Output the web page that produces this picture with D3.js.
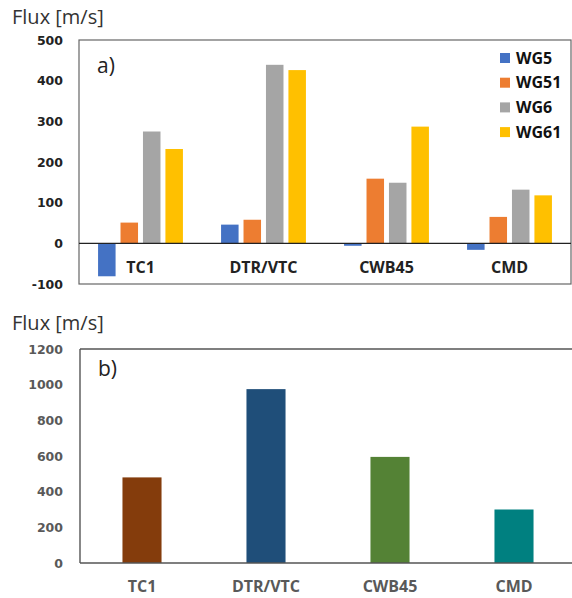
<!DOCTYPE html>
<html><head><meta charset="utf-8">
<script src="https://cdn.jsdelivr.net/npm/d3@7"></script>
<style>body{margin:0;background:#fff}svg{display:block}</style>
</head><body>
<script>
// ---- data ----
const categories = ["TC1", "DTR/VTC", "CWB45", "CMD"];
const seriesNames = ["WG5", "WG51", "WG6", "WG61"];
const WG5 = [-81, 46, -6, -16];
const WG51 = [51, 58, 159, 65];
const WG6 = [275, 439, 149, 132];
const WG61 = [232, 426, 287, 118];
const ticksA = [-100, 0, 100, 200, 300, 400, 500];
const totals = [480, 975, 595, 300];
const ticksB = [0, 200, 400, 600, 800, 1000, 1200];
const seriesColors = ["#4472C4", "#ED7D31", "#A5A5A5", "#FFC000"];
const totalColors = ["#843C0C", "#1F4E79", "#548235", "#008080"];

const W = 572, H = 598;
const svg = d3.select("body").append("svg").attr("width", W).attr("height", H);
const tickFont = "'DejaVu Sans', sans-serif";
const labFont = "'Open Sans', sans-serif";
const fmt = v => String(v);

// ---- chart a ----
const seriesVals = [WG5, WG51, WG6, WG61];
const a = {l: 79, r: 571, t: 40, b: 284};
const yA = d3.scaleLinear().domain([-100, 500]).range([a.b, a.t]);
const x0 = d3.scaleBand().domain(categories).range([a.l, a.r]).paddingInner(0.31).paddingOuter(0.155);
const x1 = d3.scaleBand().domain(seriesNames).range([0, x0.bandwidth()]).paddingInner(0.22);

svg.append("text").attr("x", 12).attr("y", 24).attr("font-family", labFont).attr("font-size", 20)
  .attr("fill", "#333").text("Flux [m/s]");

const gA = svg.append("g");
categories.forEach((c, ci) => {
  seriesNames.forEach((s, si) => {
    const v = seriesVals[si][ci];
    gA.append("rect")
      .attr("x", x0(c) + x1(s)).attr("width", x1.bandwidth())
      .attr("y", yA(Math.max(0, v))).attr("height", Math.abs(yA(v) - yA(0)))
      .attr("fill", seriesColors[si]);
  });
});
// border
svg.append("rect").attr("x", a.l).attr("y", a.t).attr("width", a.r - a.l).attr("height", a.b - a.t)
  .attr("fill", "none").attr("stroke", "#666").attr("stroke-width", 1.2);
// zero line
svg.append("line").attr("x1", a.l).attr("x2", a.r).attr("y1", yA(0)).attr("y2", yA(0))
  .attr("stroke", "#222").attr("stroke-width", 1.2);
// y ticks
const yAxisA = d3.axisLeft(yA).tickValues(ticksA).tickFormat(fmt).tickSize(0).tickPadding(16);
const gya = svg.append("g").attr("transform", `translate(${a.l},0)`).call(yAxisA);
gya.select(".domain").remove();
gya.selectAll("text").attr("font-family", tickFont).attr("font-size", 12.5).attr("font-weight", "bold").attr("fill", "#222");
// category labels
categories.forEach(c => {
  svg.append("text").attr("x", x0(c) + x0.bandwidth() / 2).attr("y", 273)
    .attr("text-anchor", "middle").attr("font-family", labFont).attr("font-size", 16)
    .attr("font-weight", "bold").attr("fill", "#222").text(c);
});
svg.append("text").attr("x", 97).attr("y", 73).attr("font-family", labFont).attr("font-size", 21)
  .attr("fill", "#222").text("a)");
// legend
seriesNames.forEach((s, i) => {
  const y = 58 + i * 24.7;
  svg.append("rect").attr("x", 500).attr("y", y - 5).attr("width", 10).attr("height", 10).attr("fill", seriesColors[i]);
  svg.append("text").attr("x", 516).attr("y", y + 5.5).attr("font-family", labFont).attr("font-size", 16)
    .attr("font-weight", "bold").attr("fill", "#111").text(s);
});

// ---- chart b ----
const b = {l: 80, r: 576, t: 349, b: 563};
const yB = d3.scaleLinear().domain([0, 1200]).range([b.b, b.t]);
const xB = d3.scaleBand().domain(categories).range([b.l, b.r]).paddingInner(0.685).paddingOuter(0.3425);

svg.append("text").attr("x", 12).attr("y", 330).attr("font-family", labFont).attr("font-size", 20)
  .attr("fill", "#333").text("Flux [m/s]");

categories.forEach((c, i) => {
  svg.append("rect").attr("x", xB(c)).attr("width", xB.bandwidth())
    .attr("y", yB(totals[i])).attr("height", yB(0) - yB(totals[i])).attr("fill", totalColors[i]);
});
svg.append("line").attr("x1", b.l).attr("x2", W).attr("y1", b.t).attr("y2", b.t).attr("stroke", "#555").attr("stroke-width", 1.6);
svg.append("line").attr("x1", b.l).attr("x2", b.l).attr("y1", b.t).attr("y2", b.b).attr("stroke", "#555").attr("stroke-width", 1.4);
svg.append("line").attr("x1", b.l).attr("x2", W).attr("y1", b.b).attr("y2", b.b).attr("stroke", "#555").attr("stroke-width", 1.6);

const gyb = svg.append("g").attr("transform", `translate(${b.l},0)`)
  .call(d3.axisLeft(yB).tickValues(ticksB).tickFormat(fmt).tickSize(0).tickPadding(17));
gyb.select(".domain").remove();
gyb.selectAll("text").attr("font-family", tickFont).attr("font-size", 12.5).attr("font-weight", "bold").attr("fill", "#595959");

categories.forEach(c => {
  svg.append("text").attr("x", xB(c) + xB.bandwidth() / 2).attr("y", 592)
    .attr("text-anchor", "middle").attr("font-family", labFont).attr("font-size", 16)
    .attr("font-weight", "bold").attr("fill", "#595959").text(c);
});
svg.append("text").attr("x", 98).attr("y", 376).attr("font-family", labFont).attr("font-size", 21)
  .attr("fill", "#222").text("b)");
</script>
</body></html>
